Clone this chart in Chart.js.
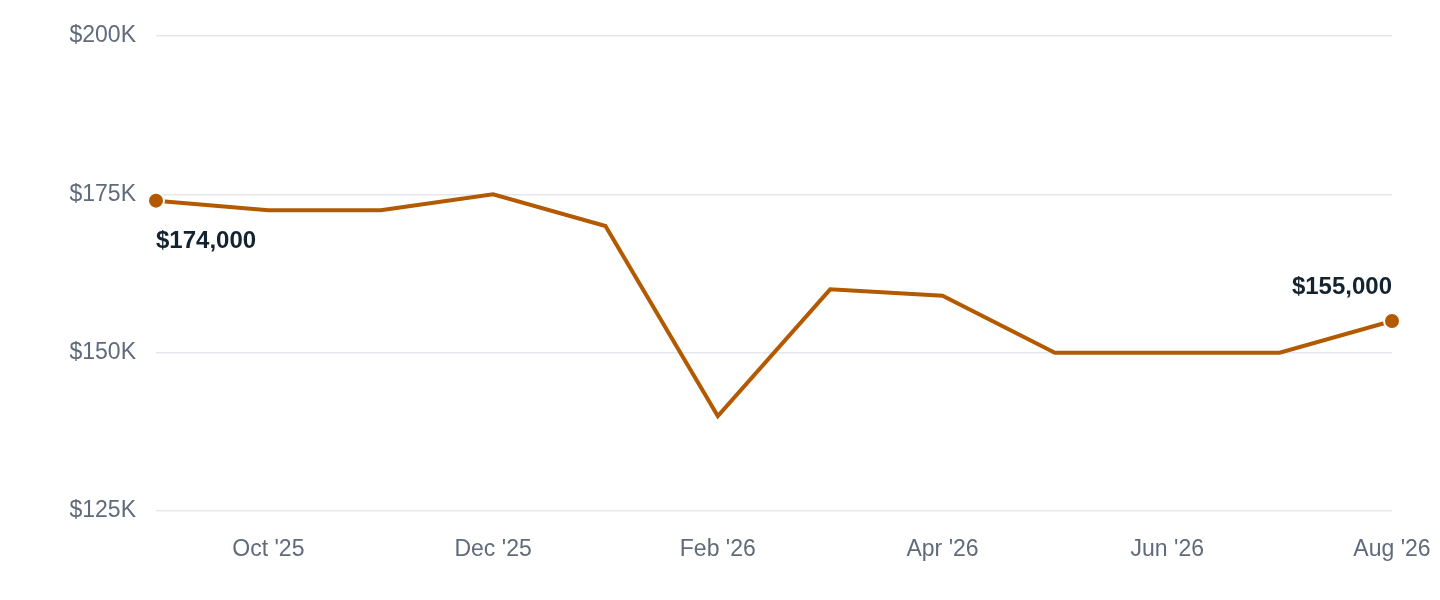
<!DOCTYPE html>
<html>
<head>
    <meta charset="utf-8">
    <title>Monthly Value</title>
    <script src="https://cdn.jsdelivr.net/npm/chart.js"></script>
    <style>
        html, body { margin: 0; padding: 0; background: #fff; }
        #wrap { width: 1440px; height: 600px; }
    </style>
</head>
<body>
    <div id="wrap"><canvas id="lineChart" width="1440" height="600"></canvas></div>

    <script>
        const months = ["Sep '25", "Oct '25", "Nov '25", "Dec '25", "Jan '26", "Feb '26",
                        "Mar '26", "Apr '26", "May '26", "Jun '26", "Jul '26", "Aug '26"];
        const values = [174000, 172500, 172500, 175000, 170000, 140000,
                        160000, 159000, 150000, 150000, 150000, 155000];
        const yTicks = [125000, 150000, 175000, 200000];

        const lineColor = '#b35900';
        const fontFamily = '"Liberation Sans", Arial, Helvetica, sans-serif';

        // labels the first and last value
        const endLabels = {
            id: 'endLabels',
            afterDatasetsDraw(chart) {
                const ctx = chart.ctx;
                const meta = chart.getDatasetMeta(0);
                const last = values.length - 1;
                const fmt = v => '$' + v.toLocaleString('en-US');
                ctx.save();
                ctx.font = 'bold 24px ' + fontFamily;
                ctx.fillStyle = '#13232f';
                ctx.textBaseline = 'middle';

                const p0 = meta.data[0];
                ctx.textAlign = 'left';
                ctx.fillText(fmt(values[0]), p0.x, p0.y + 41);

                const p1 = meta.data[last];
                ctx.textAlign = 'right';
                ctx.fillText(fmt(values[last]), p1.x, p1.y - 34);
                ctx.restore();
            }
        };

        const ctx = document.getElementById('lineChart').getContext('2d');
        new Chart(ctx, {
            type: 'line',
            data: {
                labels: months,
                datasets: [{
                    data: values,
                    borderColor: lineColor,
                    borderWidth: 4,
                    tension: 0,
                    pointRadius: values.map((v, i) => (i === 0 || i === values.length - 1) ? 8 : 0),
                    pointBackgroundColor: lineColor,
                    pointBorderColor: '#fff',
                    pointBorderWidth: 2,
                    fill: false
                }]
            },
            options: {
                responsive: false,
                animation: false,
                layout: { padding: { top: 36, right: 48, bottom: 0, left: 0 } },
                plugins: {
                    legend: { display: false },
                    tooltip: { enabled: false }
                },
                scales: {
                    x: {
                        offset: false,
                        afterFit: s => { s.height = 89; s.paddingLeft = 0; s.paddingRight = 0; },
                        grid: { display: false, drawTicks: false },
                        border: { display: false },
                        ticks: {
                            autoSkip: false,
                            maxRotation: 0,
                            padding: 25,
                            color: '#5f6b7a',
                            font: { family: fontFamily, size: 23 },
                            callback: (v, i) => (i % 2 === 1 ? months[i] : '')
                        }
                    },
                    y: {
                        min: yTicks[0],
                        max: yTicks[yTicks.length - 1],
                        afterFit: s => { s.width = 156; s.paddingTop = 0; s.paddingBottom = 0; },
                        afterBuildTicks: s => { s.ticks = yTicks.map(v => ({ value: v })); },
                        grid: { color: '#e4e8ee', lineWidth: 1.5, drawTicks: false },
                        border: { display: false },
                        ticks: {
                            padding: 20,
                            color: '#5f6b7a',
                            font: { family: fontFamily, size: 23 },
                            callback: v => '$' + (v / 1000) + 'K'
                        }
                    }
                }
            },
            plugins: [endLabels]
        });
    </script>
</body>
</html>
